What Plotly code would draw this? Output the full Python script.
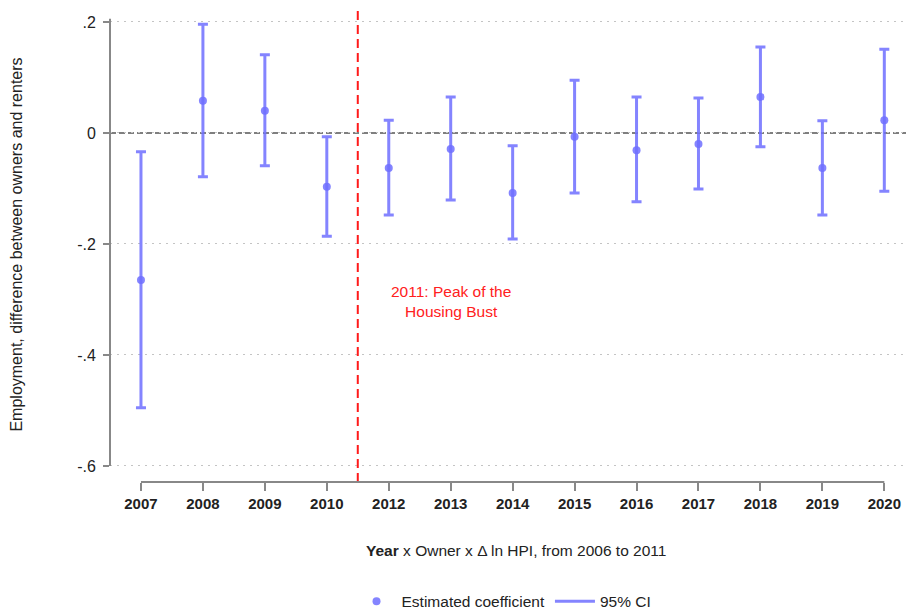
import plotly.graph_objects as go

years = ["2007", "2008", "2009", "2010", "2012", "2013", "2014", "2015", "2016", "2017", "2018", "2019", "2020"]
coef = [-0.265, 0.058, 0.040, -0.097, -0.063, -0.029, -0.108, -0.007, -0.031, -0.020, 0.065, -0.063, 0.023]
ci_hi = [-0.034, 0.196, 0.141, -0.007, 0.023, 0.065, -0.023, 0.095, 0.065, 0.063, 0.155, 0.022, 0.151]
ci_lo = [-0.495, -0.079, -0.059, -0.186, -0.148, -0.121, -0.191, -0.108, -0.124, -0.101, -0.025, -0.148, -0.105]
y_ticks = [0.2, 0, -0.2, -0.4, -0.6]
y_ticktext = [".2", "0", "-.2", "-.4", "-.6"]

xi = list(range(len(years)))
plus = [h - c for h, c in zip(ci_hi, coef)]
minus = [c - l for c, l in zip(coef, ci_lo)]

BLUE = "rgba(110,110,255,0.85)"
FONT = "Liberation Sans, Arial, sans-serif"

fig = go.Figure()
fig.add_trace(go.Scatter(
    x=xi, y=coef, mode="markers", name="Estimated coefficient",
    marker=dict(color=BLUE, size=8),
    error_y=dict(type="data", symmetric=False, array=plus, arrayminus=minus,
                 color=BLUE, thickness=3, width=5),
))
fig.add_trace(go.Scatter(
    x=[None], y=[None], mode="lines", name="95% CI",
    line=dict(color=BLUE, width=3),
))

# zero line
fig.add_shape(type="line", xref="paper", x0=0, x1=1, y0=0, y1=0,
              line=dict(color="#555555", width=1.5, dash="6px,3px"), layer="below")
# vertical red line between 2010 and 2012
fig.add_shape(type="line", x0=3.5, x1=3.5, yref="paper", y0=0, y1=1,
              line=dict(color="#ff1a1a", width=2, dash="9px,5px"))
# y axis line
fig.add_shape(type="line", xref="paper", x0=0, x1=0, y0=-0.6, y1=0.206,
              line=dict(color="#888888", width=2))
# x axis line
fig.add_shape(type="line", x0=0, x1=len(years) - 1, yref="paper", y0=0, y1=0,
              line=dict(color="#888888", width=2))

fig.add_annotation(x=5, y=-0.303, text="2011: Peak of the<br>Housing Bust",
                   showarrow=False, font=dict(color="#ff2020", size=15.5, family=FONT))
fig.add_annotation(xref="paper", yref="paper", x=0.51, y=-0.145, yanchor="middle",
                   text="<b>Year</b> x Owner x \u0394 ln HPI, from 2006 to 2011",
                   showarrow=False, font=dict(color="#222222", size=15.5, family=FONT))

fig.update_layout(
    width=909, height=616,
    margin=dict(l=110, r=3, t=7, b=134, autoexpand=False),
    plot_bgcolor="white", paper_bgcolor="white",
    font=dict(family=FONT, color="#222222", size=15),
    showlegend=True,
    legend=dict(orientation="h", x=0.495, xanchor="center", y=-0.252, yanchor="middle",
                font=dict(size=15.5, family=FONT, color="#222222"), itemwidth=40),
    xaxis=dict(range=[-0.5, 12.35], tickvals=xi, ticktext=["<b>%s</b>" % y for y in years],
               showgrid=False, zeroline=False, showline=False,
               ticks="outside", ticklen=8, tickwidth=2, tickcolor="#888888",
               tickfont=dict(size=15, family=FONT, color="#222222")),
    yaxis=dict(range=[-0.629, 0.227], tickvals=y_ticks, ticktext=y_ticktext,
               showgrid=True, gridcolor="#c4c4c4", griddash="2px,5px", gridwidth=1,
               zeroline=False, showline=False,
               ticks="outside", ticklen=6, tickwidth=2, tickcolor="#888888",
               ticklabelstandoff=4,
               tickfont=dict(size=16, family=FONT, color="#222222"),
               title=dict(text="Employment, difference between owners and renters",
                          font=dict(size=16, family=FONT, color="#222222"), standoff=50)),
)

fig.write_html("out.html")
